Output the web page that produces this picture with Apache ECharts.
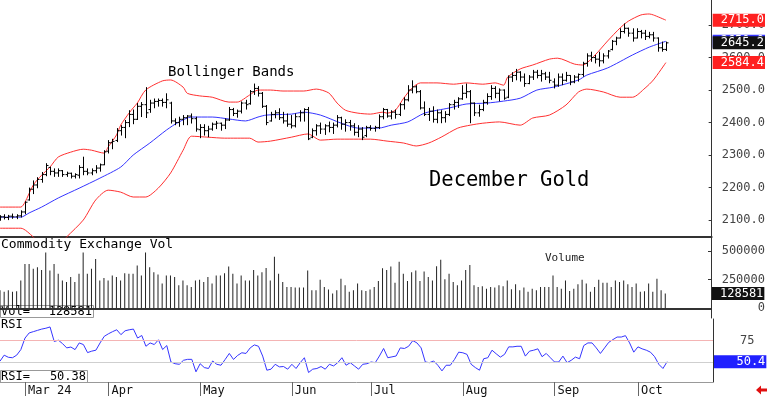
<!DOCTYPE html>
<html>
<head>
<meta charset="utf-8">
<script src="https://cdn.jsdelivr.net/npm/echarts@6/dist/echarts.min.js"></script>
<style>
  html, body { margin: 0; padding: 0; background: #fff; }
  #chart { width: 768px; height: 397px; }
</style>
</head>
<body>
<div id="chart"></div>
<script>
// trading days shown on the chart, per month
const tradingDays = [
  ['2024-02', [22, 23, 26, 27, 28, 29]],
  ['2024-03', [1, 4, 5, 6, 7, 8, 11, 12, 13, 14, 15, 18, 19, 20, 21, 22, 25, 26, 27, 28]],
  ['2024-04', [1, 2, 3, 4, 5, 8, 9, 10, 11, 12, 15, 16, 17, 18, 19, 22, 23, 24, 25, 26, 29, 30]],
  ['2024-05', [1, 2, 3, 6, 7, 8, 9, 10, 13, 14, 15, 16, 17, 20, 21, 22, 23, 24, 28, 29, 30, 31]],
  ['2024-06', [3, 4, 5, 6, 7, 10, 11, 12, 13, 14, 17, 18, 20, 21, 24, 25, 26, 27, 28]],
  ['2024-07', [1, 2, 3, 5, 8, 9, 10, 11, 12, 15, 16, 17, 18, 19, 22, 23, 24, 25, 26, 29, 30, 31]],
  ['2024-08', [1, 2, 5, 6, 7, 8, 9, 12, 13, 14, 15, 16, 19, 20, 21, 22, 23, 26, 27, 28, 29, 30]],
  ['2024-09', [3, 4, 5, 6, 9, 10, 11, 12, 13, 16, 17, 18, 19, 20, 23, 24, 25, 26, 27, 30]],
  ['2024-10', [1, 2, 3, 4, 7, 8, 9, 10]]
]
const monthLabels = {
  '2024-03': 'Mar 24', '2024-04': 'Apr', '2024-05': 'May', '2024-06': 'Jun',
  '2024-07': 'Jul', '2024-08': 'Aug', '2024-09': 'Sep', '2024-10': 'Oct'
}

const openP = [
  2105, 2110, 2108, 2112, 2110, 2113, 2125, 2162, 2195, 2208,
  2225, 2240, 2262, 2250, 2245, 2252, 2240, 2244, 2235, 2238,
  2262, 2250, 2245, 2252, 2260, 2270, 2312, 2338, 2345, 2375,
  2385, 2400, 2425, 2410, 2450, 2455, 2440, 2460, 2465, 2468,
  2462, 2460, 2405, 2400, 2410, 2415, 2420, 2412, 2378, 2385,
  2375, 2380, 2395, 2398, 2392, 2408, 2440, 2428, 2435, 2460,
  2458, 2495, 2505, 2490, 2450, 2405, 2425, 2430, 2415, 2405,
  2395, 2390, 2418, 2430, 2440, 2355, 2375, 2390, 2380, 2390,
  2385, 2392, 2415, 2395, 2400, 2390, 2370, 2380, 2360, 2385,
  2382, 2385, 2418, 2440, 2420, 2432, 2425, 2455, 2470, 2500,
  2510, 2495, 2445, 2425, 2435, 2410, 2430, 2415, 2425, 2455,
  2462, 2473, 2490, 2495, 2460, 2430, 2440, 2462, 2480, 2505,
  2490, 2500, 2478, 2540, 2545, 2555, 2540, 2520, 2540, 2555,
  2545, 2550, 2540, 2525, 2515, 2540, 2530, 2545, 2525, 2540,
  2548, 2582, 2605, 2600, 2595, 2590, 2605, 2625, 2650, 2660,
  2680, 2690, 2675, 2660, 2680, 2675, 2665, 2670, 2660, 2630,
  2625
]
const highP = [
  2115, 2118, 2116, 2120, 2118, 2130, 2158, 2200, 2222, 2232,
  2248, 2275, 2264, 2259, 2259, 2254, 2249, 2246, 2244, 2269,
  2295, 2259, 2259, 2269, 2274, 2315, 2346, 2350, 2383, 2392,
  2408, 2438, 2440, 2460, 2463, 2509, 2470, 2474, 2474, 2474,
  2490, 2464, 2413, 2418, 2423, 2423, 2428, 2418, 2395, 2395,
  2390, 2400, 2405, 2400, 2413, 2448, 2445, 2440, 2465, 2470,
  2500, 2520, 2512, 2494, 2454, 2433, 2438, 2444, 2433, 2428,
  2423, 2428, 2438, 2444, 2448, 2382, 2395, 2400, 2395, 2403,
  2400, 2423, 2418, 2410, 2408, 2398, 2392, 2386, 2390, 2392,
  2390, 2425, 2445, 2442, 2438, 2440, 2460, 2478, 2515, 2530,
  2515, 2500, 2465, 2445, 2450, 2440, 2438, 2435, 2460, 2470,
  2478, 2515, 2520, 2500, 2462, 2455, 2470, 2490, 2515, 2512,
  2505, 2502, 2545, 2555, 2565, 2558, 2551, 2546, 2562, 2562,
  2562, 2556, 2556, 2536, 2551, 2551, 2556, 2546, 2546, 2551,
  2587, 2613, 2618, 2608, 2618, 2613, 2623, 2654, 2664, 2690,
  2705, 2692, 2690, 2690, 2685, 2685, 2679, 2679, 2662, 2649,
  2649
]
const lowP = [
  2098, 2102, 2100, 2104, 2103, 2108, 2118, 2160, 2180, 2198,
  2215, 2235, 2238, 2233, 2233, 2233, 2233, 2228, 2228, 2228,
  2238, 2238, 2238, 2244, 2249, 2269, 2305, 2318, 2340, 2360,
  2352, 2386, 2395, 2408, 2417, 2414, 2430, 2444, 2449, 2449,
  2444, 2397, 2392, 2387, 2392, 2392, 2397, 2372, 2352, 2360,
  2355, 2375, 2380, 2375, 2380, 2405, 2420, 2415, 2428, 2440,
  2455, 2485, 2480, 2445, 2392, 2403, 2413, 2408, 2397, 2387,
  2382, 2385, 2403, 2403, 2346, 2352, 2360, 2365, 2362, 2370,
  2365, 2385, 2378, 2372, 2375, 2360, 2355, 2346, 2355, 2375,
  2372, 2380, 2410, 2415, 2410, 2412, 2420, 2440, 2465, 2490,
  2490, 2440, 2420, 2405, 2400, 2398, 2398, 2400, 2420, 2440,
  2445, 2470, 2475, 2398, 2420, 2418, 2435, 2455, 2470, 2475,
  2465, 2470, 2475, 2525, 2530, 2526, 2510, 2518, 2531, 2536,
  2526, 2531, 2521, 2505, 2510, 2515, 2526, 2515, 2521, 2526,
  2541, 2572, 2587, 2582, 2572, 2582, 2597, 2622, 2638, 2659,
  2674, 2664, 2649, 2659, 2659, 2654, 2659, 2649, 2618, 2618,
  2620
]
const closeP = [
  2110, 2108, 2112, 2110, 2113, 2125, 2155, 2195, 2208, 2225,
  2240, 2268, 2250, 2245, 2252, 2240, 2244, 2235, 2240, 2262,
  2250, 2245, 2252, 2260, 2270, 2310, 2338, 2342, 2375, 2385,
  2400, 2425, 2410, 2450, 2455, 2430, 2460, 2465, 2468, 2462,
  2470, 2405, 2400, 2410, 2415, 2420, 2412, 2380, 2385, 2375,
  2380, 2395, 2398, 2392, 2408, 2440, 2428, 2435, 2460, 2455,
  2495, 2505, 2490, 2450, 2400, 2425, 2430, 2415, 2405, 2395,
  2390, 2418, 2430, 2440, 2350, 2375, 2390, 2380, 2390, 2385,
  2392, 2415, 2395, 2400, 2390, 2370, 2380, 2355, 2385, 2382,
  2385, 2418, 2440, 2420, 2432, 2425, 2455, 2470, 2500, 2510,
  2495, 2445, 2425, 2435, 2410, 2430, 2415, 2425, 2455, 2462,
  2473, 2490, 2495, 2460, 2430, 2440, 2462, 2480, 2505, 2490,
  2500, 2475, 2540, 2545, 2555, 2540, 2520, 2540, 2555, 2545,
  2550, 2540, 2530, 2515, 2540, 2530, 2545, 2525, 2540, 2548,
  2582, 2605, 2600, 2595, 2590, 2605, 2620, 2650, 2660, 2680,
  2690, 2675, 2660, 2680, 2675, 2665, 2670, 2660, 2630, 2625,
  2645.2
]

// Bollinger bands read at points along the curves: [bar index, price]
const upperBand = [
  [0, 2140], [5, 2140], [6, 2155], [8, 2208], [10, 2238], [12, 2263], [14, 2294], [17, 2309],
  [20, 2318], [22, 2315], [25, 2306], [26, 2325], [28, 2362], [29, 2392], [31, 2429], [32, 2445],
  [33, 2460], [35, 2500], [39, 2528], [41, 2531], [44, 2509], [45, 2490], [48, 2482], [51, 2478],
  [55, 2463], [57, 2463], [60, 2485], [62, 2500], [65, 2500], [68, 2497], [73, 2497], [76, 2503],
  [79, 2491], [81, 2460], [83, 2438], [86, 2429], [89, 2426], [92, 2432], [93, 2429], [95, 2438],
  [97, 2475], [99, 2506], [101, 2522], [105, 2522], [109, 2518], [112, 2522], [116, 2518], [119, 2522],
  [121, 2515], [122, 2540], [125, 2565], [128, 2577], [132, 2595], [134, 2598], [138, 2580], [140, 2577],
  [143, 2608], [146, 2651], [149, 2691], [151, 2712], [154, 2731], [156, 2734], [157, 2731], [160, 2715.0]
]
const midBand = [
  [0, 2109], [5, 2109], [7, 2122], [10, 2140], [14, 2168], [19, 2198], [24, 2229], [29, 2263],
  [32, 2300], [36, 2337], [40, 2377], [43, 2402], [46, 2417], [51, 2417], [55, 2411], [59, 2405],
  [62, 2417], [64, 2423], [70, 2426], [73, 2432], [77, 2423], [82, 2398], [86, 2383], [91, 2383],
  [94, 2392], [98, 2402], [102, 2429], [108, 2445], [112, 2457], [117, 2460], [121, 2466], [125, 2475],
  [129, 2500], [133, 2509], [139, 2531], [141, 2546], [146, 2568], [152, 2608], [156, 2632], [160, 2650]
]
const lowerBand = [
  [0, 2075], [5, 2075], [8, 2048], [11, 2008], [13, 2008], [16, 2048], [20, 2100], [23, 2162],
  [26, 2192], [29, 2186], [32, 2171], [35, 2171], [38, 2198], [41, 2245], [44, 2315], [46, 2358],
  [50, 2355], [54, 2352], [60, 2352], [62, 2340], [65, 2343], [70, 2355], [74, 2365], [77, 2346],
  [81, 2349], [89, 2349], [93, 2343], [97, 2337], [100, 2328], [103, 2337], [106, 2355], [110, 2383],
  [113, 2392], [116, 2398], [120, 2402], [125, 2392], [128, 2414], [132, 2423], [136, 2454], [139, 2494],
  [141, 2503], [145, 2494], [149, 2478], [152, 2478], [155, 2506], [157, 2531], [160, 2584.4]
]

const volume = [
  158000, 144000, 158000, 144000, 150000, 244000, 388000, 388000, 345000, 359000,
  336000, 489000, 330000, 388000, 302000, 244000, 230000, 273000, 230000, 302000,
  489000, 302000, 345000, 431000, 244000, 264000, 244000, 287000, 273000, 244000,
  307000, 302000, 302000, 374000, 287000, 489000, 359000, 316000, 296000, 216000,
  287000, 287000, 273000, 201000, 244000, 201000, 187000, 244000, 250000, 230000,
  273000, 216000, 287000, 287000, 307000, 365000, 302000, 216000, 287000, 244000,
  244000, 336000, 287000, 316000, 353000, 244000, 451000, 302000, 230000, 187000,
  187000, 181000, 181000, 181000, 330000, 158000, 158000, 250000, 187000, 164000,
  129000, 158000, 258000, 201000, 144000, 158000, 216000, 158000, 152000, 164000,
  187000, 239000, 351000, 336000, 365000, 224000, 408000, 302000, 239000, 316000,
  330000, 239000, 322000, 273000, 244000, 368000, 425000, 253000, 302000, 230000,
  201000, 244000, 336000, 379000, 201000, 187000, 193000, 172000, 187000, 181000,
  201000, 193000, 244000, 167000, 210000, 158000, 181000, 144000, 172000, 158000,
  187000, 187000, 187000, 287000, 187000, 172000, 244000, 152000, 172000, 210000,
  250000, 216000, 144000, 187000, 250000, 224000, 224000, 187000, 244000, 230000,
  244000, 210000, 187000, 216000, 144000, 149000, 216000, 144000, 259000, 158000,
  128581
]

const rsi = [
  51, 58, 55.5, 55, 58, 64.5, 78, 84, 85.5, 87,
  88.5, 89.5, 91, 74, 75.5, 71.5, 66.5, 67.5, 64.5, 72.3,
  70.4, 61, 62.7, 63.8, 72.3, 80, 83, 85.5, 87.7, 82,
  86.5, 87.7, 88.5, 78, 81, 68.4, 72.3, 70.4, 76, 64.6,
  69.2, 50, 48, 47.3, 52, 53.1, 53.1, 38.5, 48, 43.5,
  42.4, 51.2, 47.3, 46.2, 53, 60, 53, 57.7, 60.8, 60,
  66.5, 70, 68.4, 56.9, 40.4, 41.6, 47.3, 44.3, 44.7, 41.6,
  47.3, 42.4, 49.2, 55, 37.7, 41.6, 42.4, 44.7, 41.6, 47.3,
  45.4, 49.2, 55, 46.2, 49.2, 45.4, 41.6, 47.3, 48, 50,
  49.2, 57, 65.8, 55, 56, 57, 66.5, 65.8, 68.4, 75,
  72.3, 66.5, 50, 49.2, 51.2, 46.2, 39.6, 46.2, 46.2, 53,
  61.5, 60.8, 58.9, 47.3, 43.5, 40.4, 53.8, 55, 63.8, 59.6,
  55.7, 58.9, 67.7, 67.7, 68.4, 68.4, 56.9, 62.7, 63.8, 65.4,
  56.2, 60, 55, 50, 50, 56.9, 49.2, 52, 55.7, 53.8,
  69.2, 72.3, 72.3, 66.5, 60, 66.5, 73, 76.2, 79.2, 79.2,
  80.8, 72.3, 61.5, 67.7, 65.4, 63.8, 61.5, 56.2, 47.3, 42.4,
  50.38
]

const priceTicks = [2100, 2200, 2300, 2400, 2500, 2600, 2700]
const volTicks = [0, 250000, 500000]
const rsiTicks = [75]
const rsiLevels = [75, 50]

// category axis: trading dates plus empty slots on the right
const dates = []
const monthStart = {}
tradingDays.forEach(([m, days]) => {
  if (monthLabels[m]) monthStart[dates.length] = monthLabels[m]
  days.forEach((d) => dates.push(m + '-' + String(d).padStart(2, '0')))
})
const emptySlots = 11
const categories = dates.concat(Array.from({ length: emptySlots }, (_, k) => 'pad' + k))

const last = dates.length - 1
const mono = 'DejaVu Sans Mono'
const ohlc = dates.map((d, i) => [i, openP[i], highP[i], lowP[i], closeP[i]])
const hidden = { color: 'rgba(0,0,0,0)', width: 0 }

function tagLabel(text, bg) {
  return {
    show: true,
    position: 'end',
    distance: 1,
    formatter: text,
    color: '#fff',
    backgroundColor: bg,
    fontFamily: mono,
    fontSize: 12,
    lineHeight: 12,
    padding: [1, 1, 0, 8]
  }
}
function pad6(s) {
  return String(s).padStart(6, ' ')
}
function tagLine(value, text, bg) {
  return {
    silent: true,
    symbol: 'none',
    animation: false,
    lineStyle: hidden,
    data: [{ yAxis: value, lineStyle: hidden, label: tagLabel(text, bg) }]
  }
}

const chart = echarts.init(document.getElementById('chart'))

const option = {
  animation: false,
  backgroundColor: '#fff',
  grid: [
    { left: 0, top: 0, width: 713, height: 237 },
    { left: 0, top: 238, width: 713, height: 80 },
    { left: 0, top: 319, width: 713, height: 64 }
  ],
  xAxis: [0, 1, 2].map((g) => ({
    gridIndex: g,
    type: 'category',
    data: categories,
    boundaryGap: false,
    axisLine: g < 2
      ? { lineStyle: { color: '#333', width: 2 } }
      : { lineStyle: { color: '#999', width: 1 } },
    axisTick: g < 2 ? { show: false } : {
      show: true,
      interval: (i) => i in monthStart,
      length: 14,
      lineStyle: { color: '#666' }
    },
    axisLabel: g < 2 ? { show: false } : {
      interval: (i) => i in monthStart,
      formatter: (v, i) => monthStart[i] || '',
      align: 'left',
      padding: [0, 0, 0, 3],
      margin: 3,
      fontFamily: mono,
      fontSize: 12,
      color: '#111'
    },
    splitLine: { show: false }
  })),
  yAxis: [
    {
      gridIndex: 0,
      type: 'value',
      position: 'right',
      min: 2048,
      max: 2777,
      axisLine: { show: true, lineStyle: { color: '#333' } },
      axisTick: { show: true, inside: true, length: 3, customValues: priceTicks, lineStyle: { color: '#333' } },
      axisLabel: {
        customValues: priceTicks,
        formatter: (v) => v.toFixed(1),
        margin: 10,
        fontFamily: mono,
        fontSize: 12,
        color: '#444'
      },
      splitLine: { show: false }
    },
    {
      gridIndex: 1,
      type: 'value',
      position: 'right',
      min: -85000,
      max: 615000,
      axisLine: { show: true, lineStyle: { color: '#333' } },
      axisTick: { show: true, inside: true, length: 3, customValues: volTicks, lineStyle: { color: '#333' } },
      axisLabel: {
        customValues: volTicks,
        formatter: (v) => String(v),
        align: 'right',
        margin: 54,
        fontFamily: mono,
        fontSize: 12,
        color: '#444'
      },
      splitLine: { show: false }
    },
    {
      gridIndex: 2,
      type: 'value',
      position: 'right',
      min: 26.6,
      max: 100.3,
      axisLine: { show: true, lineStyle: { color: '#333' } },
      axisTick: { show: true, inside: true, length: 3, customValues: rsiTicks, lineStyle: { color: '#333' } },
      axisLabel: {
        customValues: rsiTicks,
        margin: 27,
        fontFamily: mono,
        fontSize: 12,
        color: '#444'
      },
      splitLine: { show: false }
    }
  ],
  series: [
    {
      name: 'Upper',
      type: 'line',
      xAxisIndex: 0,
      yAxisIndex: 0,
      data: upperBand,
      showSymbol: false,
      smooth: 0.25,
      silent: true,
      z: 2,
      lineStyle: { color: '#ff3030', width: 1 },
      markLine: tagLine(upperBand[upperBand.length - 1][1], upperBand[upperBand.length - 1][1].toFixed(1), '#ff2020')
    },
    {
      name: 'Lower',
      type: 'line',
      xAxisIndex: 0,
      yAxisIndex: 0,
      data: lowerBand,
      showSymbol: false,
      smooth: 0.25,
      silent: true,
      z: 2,
      lineStyle: { color: '#ff3030', width: 1 },
      markLine: tagLine(lowerBand[lowerBand.length - 1][1], lowerBand[lowerBand.length - 1][1].toFixed(1), '#ff2020')
    },
    {
      name: 'Middle',
      type: 'line',
      xAxisIndex: 0,
      yAxisIndex: 0,
      data: midBand,
      showSymbol: false,
      smooth: 0.25,
      silent: true,
      z: 2,
      lineStyle: { color: '#3535ff', width: 1 },
      markLine: tagLine(midBand[midBand.length - 1][1], pad6(midBand[midBand.length - 1][1].toFixed(1)), '#3535ff')
    },
    {
      name: 'December Gold',
      type: 'custom',
      xAxisIndex: 0,
      yAxisIndex: 0,
      data: ohlc,
      encode: { x: 0, y: [1, 2, 3, 4] },
      clip: true,
      z: 5,
      renderItem: (params, api) => {
        const i = api.value(0)
        const op = api.coord([i, api.value(1)])
        const hi = api.coord([i, api.value(2)])
        const lo = api.coord([i, api.value(3)])
        const cl = api.coord([i, api.value(4)])
        const x = Math.round(hi[0]) + 0.5
        const st = { stroke: '#000', lineWidth: 1 }
        return {
          type: 'group',
          children: [
            { type: 'line', shape: { x1: x, y1: hi[1], x2: x, y2: lo[1] }, style: st },
            { type: 'line', shape: { x1: x - 2, y1: op[1], x2: x, y2: op[1] }, style: st },
            { type: 'line', shape: { x1: x, y1: cl[1], x2: x + 2, y2: cl[1] }, style: st }
          ]
        }
      },
      markLine: tagLine(closeP[last], closeP[last].toFixed(1), '#111')
    },
    {
      name: 'Volume',
      type: 'bar',
      xAxisIndex: 1,
      yAxisIndex: 1,
      data: volume,
      barWidth: 1,
      itemStyle: { color: '#222' },
      silent: true,
      markLine: tagLine(volume[last], String(volume[last]), '#111')
    },
    {
      name: 'RSI',
      type: 'line',
      xAxisIndex: 2,
      yAxisIndex: 2,
      data: rsi,
      showSymbol: false,
      silent: true,
      lineStyle: { color: '#3535ff', width: 1 },
      markLine: {
        silent: true, symbol: 'none', animation: false,
        label: { show: false },
        data: [
          { yAxis: rsiLevels[0], lineStyle: { color: '#f4b4b4', width: 1, type: 'solid' } },
          { yAxis: rsiLevels[1], lineStyle: { color: '#cfcfcf', width: 1, type: 'solid' } },
          { yAxis: rsi[last], lineStyle: hidden, label: tagLabel(pad6(rsi[last].toFixed(1)), '#2020ff') }
        ]
      }
    }
  ],
  graphic: [
    { type: 'text', x: 168, y: 72, style: { text: 'Bollinger Bands', font: '14px "DejaVu Sans Mono"', fill: '#000', verticalAlign: 'middle' } },
    { type: 'text', x: 429, y: 181, style: { text: 'December Gold', font: '20.5px "DejaVu Sans Mono"', fill: '#000', verticalAlign: 'middle' } },
    { type: 'text', x: 1, y: 245, style: { text: 'Commodity Exchange Vol', font: '13px "DejaVu Sans Mono"', fill: '#000', verticalAlign: 'middle' } },
    { type: 'text', x: 545, y: 258, style: { text: 'Volume', font: '11px "DejaVu Sans Mono"', fill: '#222', verticalAlign: 'middle' } },
    { type: 'text', x: 1, y: 325, style: { text: 'RSI', font: '12px "DejaVu Sans Mono"', fill: '#000', verticalAlign: 'middle' } },
    {
      type: 'group', x: 0, y: 305, z: 100,
      children: [
        { type: 'rect', shape: { x: 0.5, y: 0.5, width: 93, height: 12 }, style: { fill: '#fff', stroke: '#999' } },
        { type: 'text', x: 1, y: 7, style: { text: 'Vol=', font: '12px "DejaVu Sans Mono"', fill: '#000', verticalAlign: 'middle' } },
        { type: 'text', x: 92, y: 7, style: { text: String(volume[last]), font: '12px "DejaVu Sans Mono"', fill: '#000', align: 'right', verticalAlign: 'middle' } }
      ]
    },
    {
      type: 'group', x: 0, y: 370, z: 100,
      children: [
        { type: 'rect', shape: { x: 0.5, y: 0.5, width: 87, height: 12 }, style: { fill: '#fff', stroke: '#999' } },
        { type: 'text', x: 1, y: 7, style: { text: 'RSI=', font: '12px "DejaVu Sans Mono"', fill: '#000', verticalAlign: 'middle' } },
        { type: 'text', x: 86, y: 7, style: { text: rsi[last].toFixed(2), font: '12px "DejaVu Sans Mono"', fill: '#000', align: 'right', verticalAlign: 'middle' } }
      ]
    },
    {
      type: 'polygon', z: 100,
      shape: { points: [[756, 390], [761, 385.5], [761, 388.5], [767, 388.5], [767, 391.5], [761, 391.5], [761, 394.5]] },
      style: { fill: '#e01010' }
    }
  ]
}

chart.setOption(option)
</script>
</body>
</html>
